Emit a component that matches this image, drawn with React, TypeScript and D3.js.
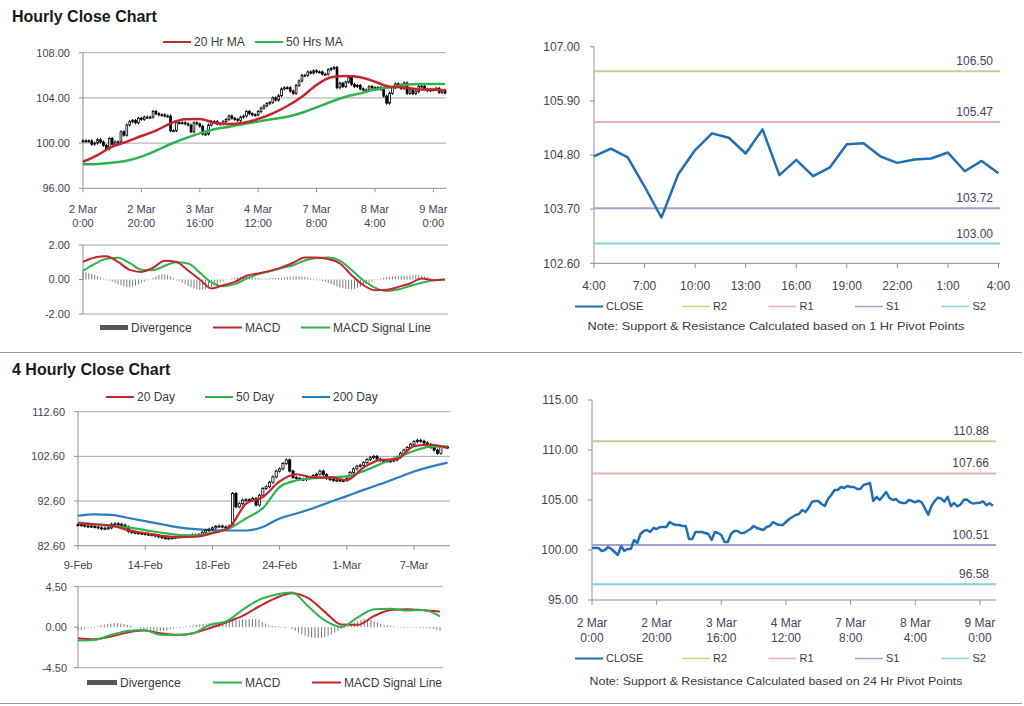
import React from 'react';
import * as d3 from 'd3';

// ---------------- DATA ----------------
// Hourly close, 2 Mar 0:00 .. 8 Mar/9 Mar 4:00 (125 hourly points)
const hourlyClose = [
  100.2, 100.2, 100.2, 99.9, 100.0, 100.3, 100.1, 99.8, 99.5, 100.4,
  99.9, 100.1, 100.1, 101.0, 100.7, 101.6, 101.9, 102.0, 101.8, 102.2,
  102.1, 102.3, 102.3, 102.3, 102.8, 102.6, 102.5, 102.5, 102.4, 102.4,
  101.1, 101.1, 101.8, 101.8, 101.8, 101.7, 101.6, 101.0, 101.8, 101.7,
  101.5, 100.8, 100.8, 101.6, 101.9, 101.9, 101.7, 101.7, 101.9, 102.1,
  102.4, 102.2, 102.1, 102.0, 102.3, 102.4, 102.8, 102.6, 102.5, 102.5,
  102.8, 103.1, 103.3, 103.5, 103.6, 104.0, 103.8, 104.2, 104.8, 104.9,
  104.9, 104.6, 104.4, 105.1, 105.5, 106.0, 106.0, 106.3, 106.2, 106.4,
  106.3, 106.3, 106.1, 106.1, 106.5, 106.6, 106.7, 104.9, 105.3, 105.0,
  105.4, 105.8, 105.2, 105.0, 105.1, 104.8, 104.7, 104.7, 105.0, 104.9,
  104.77, 104.93, 104.75, 104.16, 103.53, 104.41, 104.9, 105.24, 105.15, 104.83,
  105.32, 104.39, 104.7, 104.37, 104.55, 105.02, 105.04, 104.77, 104.64, 104.71,
  104.73, 104.85, 104.47, 104.68, 104.43,
];
const hourlyTickIdx = [0, 20, 40, 60, 80, 100, 120];
const hourlyTickDates = ['2 Mar', '2 Mar', '3 Mar', '4 Mar', '7 Mar', '8 Mar', '9 Mar'];
const hourlyTickTimes = ['0:00', '20:00', '16:00', '12:00', '8:00', '4:00', '0:00'];

const hourlyMaIdx = [0, 5, 10, 15, 20, 25, 30, 35, 40, 45, 50, 55, 60, 65, 70, 75, 80, 85, 90, 95, 100, 105, 110, 115, 120, 124];
const ma20Hr = [98.35, 98.94, 99.68, 100.12, 100.63, 101.1, 101.75, 102.1, 102.13, 101.8, 101.69, 101.8, 102.13, 102.63, 103.28, 104.1, 105.14, 105.82, 105.94, 105.82, 105.43, 104.99, 104.93, 104.75, 104.75, 104.64];
const ma50Hr = [98.12, 98.15, 98.27, 98.44, 98.8, 99.33, 99.92, 100.42, 100.86, 101.22, 101.45, 101.69, 101.9, 102.13, 102.34, 102.69, 103.16, 103.66, 104.1, 104.4, 104.75, 104.93, 105.14, 105.23, 105.23, 105.23];

const hourlyMacdIdx = [0, 4, 8, 12, 16, 20, 24, 28, 32, 36, 40, 44, 48, 52, 56, 60, 64, 68, 72, 76, 80, 84, 88, 92, 96, 100, 104, 108, 112, 116, 120, 124];
const macdHr = [1.02, 1.27, 1.35, 1.02, 0.56, 0.44, 0.68, 1.08, 1.02, 0.52, 0.0, -0.52, -0.33, -0.14, 0.22, 0.35, 0.5, 0.7, 0.97, 1.28, 1.28, 1.18, 0.93, 0.25, -0.32, -0.62, -0.6, -0.43, -0.23, 0.06, -0.04, 0.0];
const signalHr = [0.5, 0.9, 1.2, 1.26, 0.95, 0.57, 0.54, 0.8, 1.0, 0.93, 0.4, -0.17, -0.39, -0.27, 0.05, 0.31, 0.48, 0.66, 0.83, 1.1, 1.24, 1.28, 1.1, 0.55, -0.04, -0.47, -0.66, -0.58, -0.38, -0.19, -0.04, 0.0];
const divergenceHr = [
  0.45, 0.42, 0.38, 0.33, 0.27, 0.2, 0.12, 0.05,
  0.0, -0.06, -0.13, -0.2, -0.27, -0.34, -0.4, -0.45,
  -0.45, -0.42, -0.36, -0.28, -0.2, -0.12, -0.05, 0.02,
  0.1, 0.18, 0.25, 0.3, 0.3, 0.26, 0.18, 0.08,
  0.0, -0.08, -0.18, -0.28, -0.38, -0.46, -0.53, -0.58,
  -0.6, -0.6, -0.57, -0.52, -0.45, -0.36, -0.27, -0.18,
  -0.1, -0.04, 0.02, 0.06, 0.1, 0.13, 0.15, 0.16,
  0.16, 0.15, 0.13, 0.1, 0.08, 0.06, 0.05, 0.05,
  0.06, 0.07, 0.08, 0.1, 0.11, 0.13, 0.15, 0.16,
  0.17, 0.18, 0.18, 0.17, 0.15, 0.12, 0.08, 0.04,
  0.0, -0.04, -0.09, -0.14, -0.2, -0.26, -0.33, -0.4,
  -0.46, -0.51, -0.55, -0.57, -0.57, -0.55, -0.5, -0.43,
  -0.35, -0.27, -0.19, -0.11, -0.04, 0.02, 0.06, 0.1,
  0.13, 0.16, 0.18, 0.2, 0.21, 0.22, 0.22, 0.22,
  0.22, 0.23, 0.25, 0.25, 0.22, 0.17, 0.12, 0.07,
  0.03, 0.0, -0.02, -0.02, -0.01,
];

// last 25 hours (1 Hr pivot chart)
const lastDayStart = 100;
const lastDayTicks = ['4:00', '7:00', '10:00', '13:00', '16:00', '19:00', '22:00', '1:00', '4:00'];
const pivotNames = ['R2', 'R1', 'S1', 'S2'];
const pivot1Hr = [106.5, 105.47, 103.72, 103.0];
const pivot24Hr = [110.88, 107.66, 100.51, 96.58];
const hrAxisTicks = [102.6, 103.7, 104.8, 105.9, 107.0];
const dayAxisTicks = [95, 100, 105, 110, 115];

// 4-hourly close, 9 Feb .. 8 Mar (111 points)
const fourHourClose = [
  87.3, 87.2, 87.0, 87.0, 86.9, 86.8, 86.6, 86.4, 86.5, 86.6,
  87.4, 87.5, 87.4, 87.2, 86.8, 85.8, 85.6, 85.5, 85.4, 85.3,
  85.2, 85.1, 85.0, 84.8, 84.6, 84.4, 84.3, 84.3, 84.4, 84.5,
  84.6, 84.7, 84.8, 84.9, 85.0, 85.0, 85.1, 85.6, 86.0, 86.3,
  86.6, 86.9, 87.0, 86.8, 86.7, 87.0, 94.3, 91.3, 92.0, 92.8,
  92.9, 92.8, 93.2, 91.7, 93.9, 95.4, 95.8, 96.8, 98.0, 99.3,
  99.8, 101.0, 101.8, 99.3, 97.9, 97.7, 97.5, 97.4, 97.7, 97.9,
  98.3, 98.6, 99.3, 98.5, 97.7, 97.4, 97.2, 97.3, 97.2, 97.2,
  97.6, 99.0, 99.8, 100.4, 100.6, 101.2, 101.9, 102.3, 102.6, 102.0,
  101.7, 101.6, 101.5, 101.6, 101.8, 102.4, 103.3, 104.0, 104.6, 105.3,
  105.9, 106.2, 106.0, 105.6, 105.3, 104.6, 104.0, 103.3, 104.8, 104.7,
  104.6,
];
const fourHourTickIdx = [0, 20, 40, 60, 80, 100];
const fourHourTickLabels = ['9-Feb', '14-Feb', '18-Feb', '24-Feb', '1-Mar', '7-Mar'];
const fourHourAxisTicks = [82.6, 92.6, 102.6, 112.6];

const fourHourMaIdx = [0, 5, 10, 15, 20, 25, 30, 35, 40, 45, 50, 55, 60, 65, 70, 75, 80, 85, 90, 95, 100, 105, 110];
const ma20Day = [87.6, 87.4, 87.1, 86.1, 85.4, 84.8, 84.5, 84.6, 85.4, 86.7, 92.0, 93.5, 97.0, 98.6, 97.9, 97.9, 97.3, 100.1, 101.8, 102.0, 104.9, 105.2, 104.5];
const ma50Day = [87.8, 87.4, 87.0, 86.7, 86.1, 85.5, 85.0, 84.9, 85.5, 86.5, 88.7, 91.0, 95.7, 97.2, 97.7, 97.9, 98.1, 99.3, 100.9, 102.4, 103.8, 104.8, 104.8];
const ma200Day = [89.3, 89.6, 89.5, 88.8, 88.1, 87.4, 86.7, 86.3, 86.1, 86.0, 86.0, 86.8, 88.7, 89.8, 91.0, 92.4, 93.7, 95.1, 96.4, 97.8, 99.2, 100.3, 101.2];

const macd4h = [-1.48, -1.41, -0.85, -0.41, -0.3, -0.85, -0.9, -0.67, 0.26, 0.63, 1.93, 3.04, 3.6, 3.85, 2.3, 0.75, 0.02, 1.1, 2.0, 2.05, 1.85, 1.9, 1.19];
const signal4h = [-1.22, -1.33, -1.04, -0.59, -0.37, -0.67, -0.85, -0.67, -0.11, 0.52, 1.26, 2.3, 3.22, 3.78, 3.22, 1.7, 0.3, 0.26, 1.25, 1.9, 2.0, 1.88, 1.74];
const divergence4h = [
  -0.3, -0.3, -0.2, -0.1, -0.05, 0.0, 0.1, 0.2, 0.3, 0.35,
  0.4, 0.45, 0.45, 0.4, 0.35, 0.25, 0.15, 0.05, -0.05, -0.15,
  -0.25, -0.3, -0.35, -0.4, -0.45, -0.45, -0.4, -0.35, -0.25, -0.15,
  -0.05, 0.0, 0.05, 0.1, 0.15, 0.2, 0.25, 0.3, 0.35, 0.4,
  0.45, 0.5, 0.5, 0.55, 0.6, 0.65, 0.7, 0.75, 0.8, 0.8,
  0.85, 0.85, 0.9, 0.9, 0.9, 0.85, 0.6, 0.4, 0.25, 0.15,
  0.1, 0.1, 0.05, 0.0, -0.05, -0.2, -0.4, -0.6, -0.8, -0.95,
  -1.05, -1.15, -1.2, -1.2, -1.2, -1.1, -0.95, -0.8, -0.6, -0.4,
  -0.2, -0.05, 0.1, 0.3, 0.5, 0.65, 0.8, 0.9, 0.9, 0.8,
  0.65, 0.5, 0.35, 0.25, 0.2, 0.15, 0.1, 0.05, 0.05, 0.0,
  -0.05, -0.05, -0.05, -0.05, -0.1, -0.1, -0.1, -0.15, -0.2, -0.3,
  -0.4,
];
const macdHrTicks = [-2, 0, 2];
const macd4hTicks = [-4.5, 0, 4.5];
const hourlyAxisTicks = [96, 100, 104, 108];

// ---------------- STYLE ----------------
const FONT = '"Liberation Sans", Arial, Helvetica, sans-serif';
const LABEL = '#4b4058';
const TEXT = '#3a3a3a';
const GRID = '#a6a6a6';
const AXIS = '#8f8f8f';
const RED = '#c4262c';
const GREEN = '#2fb34c';
const BLUE = '#2a7cc3';
const CLOSE_BLUE = '#1f6fb6';
const DIV = '#7a7a7a';
const pivotColors = ['#bcd38c', '#e8b0b1', '#aa9ccb', '#8bcde0'];

type Lin = d3.ScaleLinear<number, number>;

function path(x: Lin, y: Lin, idx: number[], vals: number[], curve: d3.CurveFactory = d3.curveMonotoneX) {
  return d3.line<number>().x((_, k) => x(idx[k])).y((v) => y(v)).curve(curve)(vals) || '';
}
const seq = (n: number) => d3.range(n);

function Candles({ data, x, y, w }: { data: number[]; x: Lin; y: Lin; w: number }) {
  return (
    <g>
      {data.map((c, i) => {
        const o = i > 0 ? data[i - 1] : c;
        const top = y(Math.max(o, c));
        const bot = y(Math.min(o, c));
        const up = c > o;
        return (
          <g key={i}>
            <line x1={x(i)} x2={x(i)} y1={top - 1.5} y2={bot + 1.5} stroke="#000" strokeWidth={1} />
            <rect x={x(i) - w / 2} y={top} width={w} height={Math.max(1, bot - top)}
              fill={up ? '#fff' : '#000'} stroke="#000" strokeWidth={0.8} />
          </g>
        );
      })}
    </g>
  );
}

function YAxis({ y, ticks, x0, labelX, size, grid, x1 }: { y: Lin; ticks: number[]; x0: number; labelX: number; size: number; grid?: number[]; x1?: number }) {
  const [r0, r1] = y.range();
  return (
    <g>
      {grid && grid.map((g, i) => (
        <line key={'g' + i} x1={x0} x2={x1} y1={y(g)} y2={y(g)} stroke={GRID} strokeWidth={1} />
      ))}
      <line x1={x0} x2={x0} y1={r0} y2={r1} stroke={AXIS} strokeWidth={1} />
      {ticks.map((t, i) => (
        <g key={i}>
          <line x1={x0 - 4} x2={x0} y1={y(t)} y2={y(t)} stroke={AXIS} />
          <text x={labelX} y={y(t)} dy="0.35em" textAnchor="end" fontSize={size} fill={LABEL}>{t.toFixed(2)}</text>
        </g>
      ))}
    </g>
  );
}

function LegendLine({ x, y, color, label, w = 28, sw = 2, size = 12 }: { x: number; y: number; color: string; label: string; w?: number; sw?: number; size?: number }) {
  return (
    <g>
      <line x1={x} x2={x + w} y1={y} y2={y} stroke={color} strokeWidth={sw} />
      <text x={x + w + 3} y={y} dy="0.35em" fontSize={size} fill={TEXT}>{label}</text>
    </g>
  );
}

function PivotChart({ closes, startIdx, xr, yr, yDom, ticks, levels, tickIdx, tickLines, legendY, noteY, note, noteLen, lineEnd }:
  { closes: number[]; startIdx: number; xr: [number, number]; yr: [number, number]; yDom: [number, number]; ticks: number[]; levels: number[]; tickIdx: number[]; tickLines: string[][]; legendY: number; noteY: number; note: string; noteLen: number; lineEnd: number }) {
  const n = closes.length - 1;
  const x = d3.scaleLinear().domain([0, n]).range(xr);
  const y = d3.scaleLinear().domain(yDom).range(yr);
  const idx = seq(closes.length);
  return (
    <g>
      <YAxis y={y} ticks={ticks} x0={xr[0]} labelX={xr[0] - 14} size={12} />
      <line x1={xr[0]} x2={lineEnd} y1={yr[0]} y2={yr[0]} stroke={AXIS} />
      {tickIdx.map((t, i) => (
        <g key={i}>
          <line x1={x(t)} x2={x(t)} y1={yr[0]} y2={yr[0] + 5} stroke={AXIS} />
          {tickLines.map((lines, j) => (
            <text key={j} x={x(t)} y={yr[0] + 27 + j * 15} textAnchor="middle" fontSize={12} fill={LABEL}>{lines[i]}</text>
          ))}
        </g>
      ))}
      {levels.map((lv, i) => (
        <g key={i}>
          <line x1={xr[0]} x2={lineEnd} y1={y(lv)} y2={y(lv)} stroke={pivotColors[i]} strokeWidth={2} />
          <text x={lineEnd - 7} y={y(lv) - 6} textAnchor="end" fontSize={12} fill={LABEL}>{lv.toFixed(2)}</text>
        </g>
      ))}
      <path d={path(x, y, idx, closes, d3.curveLinear)} fill="none" stroke={CLOSE_BLUE} strokeWidth={2.5} strokeLinejoin="round" />
      <LegendLine x={575} y={legendY} color={CLOSE_BLUE} label="CLOSE" sw={2} size={11} />
      {pivotNames.map((nm, i) => (
        <LegendLine key={nm} x={682 + i * 86.5} y={legendY} color={pivotColors[i]} label={nm} sw={1.5} size={11} />
      ))}
      <text x={776} y={noteY} textAnchor="middle" fontSize={11.5} fill={TEXT} textLength={noteLen} lengthAdjust="spacingAndGlyphs">{note}</text>
      {startIdx >= 0 ? null : null}
    </g>
  );
}

export default function App() {
  // ---- Panel 1: hourly candles ----
  const xH = d3.scaleLinear().domain([0, 124]).range([83, 445]);
  const yH = d3.scaleLinear().domain([96, 108]).range([188.3, 52.7]);
  const hIdx = seq(hourlyClose.length);
  // ---- Panel 2: hourly MACD ----
  const yHm = d3.scaleLinear().domain([-2, 2]).range([314, 245]);
  // ---- Panel 4: 4-hourly ----
  const xD = d3.scaleLinear().domain([0, 110]).range([78, 447.6]);
  const yD = d3.scaleLinear().domain([82.6, 112.6]).range([545.7, 411.7]);
  // ---- Panel 5: 4H MACD ----
  const xDm = d3.scaleLinear().domain([0, 110]).range([78, 440]);
  const yDm = d3.scaleLinear().domain([-4.5, 4.5]).range([667.7, 586.7]);
  const dIdx = seq(fourHourClose.length);

  const lastDay = hourlyClose.slice(lastDayStart);

  return (
    <svg width={1024} height={706} style={{ position: 'absolute', left: 0, top: 0, background: '#fff' }} fontFamily={FONT}>
      <rect x={0} y={0} width={1024} height={706} fill="#fff" />
      {/* Titles */}
      <text x={12} y={22} fontSize={16} fontWeight="bold" fill="#1a1a1a">Hourly Close Chart</text>
      <text x={12} y={375} fontSize={16} fontWeight="bold" fill="#1a1a1a">4 Hourly Close Chart</text>
      <line x1={0} x2={1022} y1={352.5} y2={352.5} stroke="#9a9a9a" strokeWidth={1} />
      <line x1={0} x2={1022} y1={703.5} y2={703.5} stroke="#9a9a9a" strokeWidth={1} />

      {/* ---------- Panel 1 ---------- */}
      <LegendLine x={163} y={42} color={RED} label="20 Hr MA" />
      <LegendLine x={255} y={42} color={GREEN} label="50 Hrs MA" />
      <YAxis y={yH} ticks={hourlyAxisTicks} x0={83} labelX={70} size={11} grid={[100, 104, 108]} x1={446} />
      <line x1={83} x2={446} y1={yH(96)} y2={yH(96)} stroke={AXIS} />
      {hourlyTickIdx.map((t, i) => (
        <g key={i}>
          <line x1={xH(t)} x2={xH(t)} y1={yH(96)} y2={yH(96) + 4} stroke={AXIS} />
          <text x={xH(t)} y={213} textAnchor="middle" fontSize={11} fill={LABEL}>{hourlyTickDates[i]}</text>
          <text x={xH(t)} y={227} textAnchor="middle" fontSize={11} fill={LABEL}>{hourlyTickTimes[i]}</text>
        </g>
      ))}
      <Candles data={hourlyClose} x={xH} y={yH} w={1.8} />
      <path d={path(xH, yH, hourlyMaIdx, ma50Hr)} fill="none" stroke={GREEN} strokeWidth={2.5} />
      <path d={path(xH, yH, hourlyMaIdx, ma20Hr)} fill="none" stroke={RED} strokeWidth={2.5} />

      {/* ---------- Panel 2 ---------- */}
      <YAxis y={yHm} ticks={macdHrTicks} x0={83} labelX={70} size={11} grid={[-2, 2]} x1={448} />
      {divergenceHr.map((v, i) => (
        <line key={i} x1={xH(i)} x2={xH(i)} y1={yHm(0)} y2={yHm(v) + (v === 0 ? 0.8 : 0)} stroke={DIV} strokeWidth={1} />
      ))}
      <path d={path(xH, yHm, hourlyMacdIdx, signalHr)} fill="none" stroke={GREEN} strokeWidth={2} />
      <path d={path(xH, yHm, hourlyMacdIdx, macdHr)} fill="none" stroke={RED} strokeWidth={2} />
      <rect x={100} y={325} width={28} height={5} fill="#555" />
      <text x={131} y={327.5} dy="0.35em" fontSize={12} fill={TEXT}>Divergence</text>
      <LegendLine x={213} y={327.5} color={RED} label="MACD" w={29} />
      <LegendLine x={301} y={327.5} color={GREEN} label="MACD Signal Line" w={29} />

      {/* ---------- Panel 3: 1 Hr pivot ---------- */}
      <PivotChart closes={lastDay} startIdx={lastDayStart} xr={[594, 998.5]} yr={[263.3, 46.7]} yDom={[102.6, 107]}
        ticks={hrAxisTicks} levels={pivot1Hr} tickIdx={[0, 3, 6, 9, 12, 15, 18, 21, 24]} tickLines={[lastDayTicks]}
        legendY={306.5} noteY={330} note="Note: Support & Resistance Calculated based on 1 Hr Pivot Points" noteLen={377} lineEnd={1000} />

      {/* ---------- Panel 4 ---------- */}
      <LegendLine x={106} y={397} color={RED} label="20 Day" />
      <LegendLine x={205} y={397} color={GREEN} label="50 Day" />
      <LegendLine x={302} y={397} color={BLUE} label="200 Day" />
      <YAxis y={yD} ticks={fourHourAxisTicks} x0={78} labelX={65} size={11} grid={[92.6, 102.6, 112.6]} x1={450} />
      <line x1={78} x2={450} y1={yD(82.6)} y2={yD(82.6)} stroke={AXIS} />
      {fourHourTickIdx.map((t, i) => (
        <g key={i}>
          <line x1={xD(t)} x2={xD(t)} y1={yD(82.6)} y2={yD(82.6) + 4} stroke={AXIS} />
          <text x={xD(t)} y={569} textAnchor="middle" fontSize={11} fill={LABEL}>{fourHourTickLabels[i]}</text>
        </g>
      ))}
      <path d={path(xD, yD, fourHourMaIdx, ma200Day)} fill="none" stroke={BLUE} strokeWidth={2.2} />
      <Candles data={fourHourClose} x={xD} y={yD} w={2.2} />
      <path d={path(xD, yD, fourHourMaIdx, ma50Day)} fill="none" stroke={GREEN} strokeWidth={2.2} />
      <path d={path(xD, yD, fourHourMaIdx, ma20Day)} fill="none" stroke={RED} strokeWidth={2.2} />

      {/* ---------- Panel 5 ---------- */}
      <YAxis y={yDm} ticks={macd4hTicks} x0={78} labelX={67} size={11} grid={[-4.5, 4.5]} x1={443} />
      {divergence4h.map((v, i) => (
        <line key={i} x1={xDm(i)} x2={xDm(i)} y1={yDm(0)} y2={yDm(v) + (v === 0 ? 0.8 : 0)} stroke={DIV} strokeWidth={1} />
      ))}
      <path d={path(xDm, yDm, fourHourMaIdx, signal4h)} fill="none" stroke={RED} strokeWidth={2} />
      <path d={path(xDm, yDm, fourHourMaIdx, macd4h)} fill="none" stroke={GREEN} strokeWidth={2} />
      <rect x={87} y={680} width={30} height={5} fill="#555" />
      <text x={120} y={682.5} dy="0.35em" fontSize={12} fill={TEXT}>Divergence</text>
      <LegendLine x={213} y={682.5} color={GREEN} label="MACD" w={29} />
      <LegendLine x={312} y={682.5} color={RED} label="MACD Signal Line" w={29} />

      {/* ---------- Panel 6: 24 Hr pivot ---------- */}
      <PivotChart closes={hourlyClose} startIdx={0} xr={[592, 992.9]} yr={[600, 400]} yDom={[95, 115]}
        ticks={dayAxisTicks} levels={pivot24Hr} tickIdx={hourlyTickIdx} tickLines={[hourlyTickDates, hourlyTickTimes]}
        legendY={658.5} noteY={685} note="Note:  Support & Resistance Calculated based on 24 Hr Pivot Points" noteLen={373} lineEnd={996} />
      {hIdx.length > 0 && dIdx.length > 0 ? null : null}
    </svg>
  );
}
